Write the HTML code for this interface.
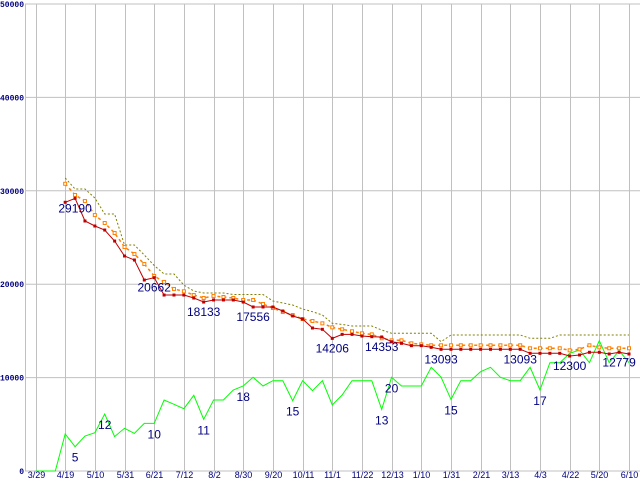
<!DOCTYPE html>
<html><head><meta charset="utf-8"><style>
body{margin:0;background:#fff}
svg{display:block;font-family:"Liberation Sans",sans-serif}
</style></head><body>
<svg id="chart" width="640" height="480" viewBox="0 0 640 480" xmlns="http://www.w3.org/2000/svg">
<g id="grid"></g>
<g id="series"></g>
<g id="labels"></g>
</svg>
<script>
const xTickLabels=["3/29","4/19","5/10","5/31","6/21","7/12","8/2","8/30","9/20","10/11","11/1","11/22","12/13","1/10","1/31","2/21","3/13","4/3","4/22","5/20","6/10"];
const yTickValues=[0,10000,20000,30000,40000,50000];
const redStart=3;
const redValues=[28770,29190,26770,26230,25800,24620,23020,22590,20450,20700,18840,18840,18840,18520,18090,18310,18310,18310,18090,17560,17560,17560,17130,16600,16270,15310,15170,14200,14630,14630,14450,14380,14350,13840,13670,13420,13420,13240,13030,13030,13030,13030,13030,13030,13030,13030,13030,12600,12600,12600,12600,12310,12420,12710,12710,12530,12710,12530];
const orangeValues=[30750,29550,28900,27400,26550,25480,23980,23230,22160,20880,20240,19490,19240,18840,18520,18740,18630,18520,18310,18310,17880,17450,17020,16700,16270,16060,15810,15380,15170,14960,14740,14630,14210,13990,13990,13670,13560,13460,13460,13460,13460,13460,13460,13460,13460,13460,13460,13140,13140,13140,13140,12920,13030,13460,13240,13140,13140,13140];
const oliveValues=[31370,30190,30190,29230,27520,27520,24200,24200,23130,22000,21090,21090,19900,19270,19060,19060,19060,18900,18900,18900,18900,18200,17990,17770,17340,17060,16700,15810,15700,15520,15520,15520,15100,14740,14740,14740,14740,14740,13840,14560,14560,14560,14560,14560,14560,14560,14560,14210,14210,14210,14560,14560,14560,14560,14560,14560,14560,14560];
const greenValues=[0,0,0,3960,2600,3750,4100,6100,3680,4570,4030,5100,5100,7600,7140,6670,8100,5530,7600,7600,8670,9100,10030,9100,9670,9670,7530,9670,8600,9670,7070,8140,9670,9670,9670,6600,10030,9100,9100,9100,11100,10030,7670,9670,9670,10630,11100,10030,9670,9670,11100,8670,11600,11600,12600,12950,11600,13950,11600,12880,11600];
const priceLabelIdx=[4,12,17,22,30,35,41,49,54,59];
const priceLabelText=["29190","20662","18133","17556","14206","14353","13093","13093","12300","12779"];
const rankLabelIdx=[4,7,12,17,21,26,35,36,42,51];
const rankLabelText=["5","12","10","11","18","15","13","20","15","17"];

const NS="http://www.w3.org/2000/svg";
const X0=35.5, XSTEP=593.5/60, Y0=471, YSCALE=467/50000;
const xs=i=>X0+i*XSTEP;
const ys=v=>Y0-v*YSCALE;
function mk(tag,attrs,parent){const e=document.createElementNS(NS,tag);for(const k in attrs)e.setAttribute(k,attrs[k]);parent.appendChild(e);return e;}
const grid=document.getElementById('grid'),ser=document.getElementById('series'),lab=document.getElementById('labels');

yTickValues.forEach(v=>{
  const l=mk('line',{x1:25,x2:640,y1:ys(v),y2:ys(v),stroke:'#c0c0c0','stroke-width':1},grid);
  
  
  const t=mk('text',{x:24,y:ys(v)+3,'text-anchor':'end','font-size':8,'font-weight':'bold',fill:'#000080','font-family':'"Liberation Mono",monospace'},lab);
  t.textContent=v;
  
  
});
const ax=mk('line',{x1:25.5,x2:25.5,y1:4,y2:471,stroke:'#c0c0c0'},grid);


xTickLabels.forEach((s,k)=>{
  const x=Math.round(xs(k*3))+0.5;
  const l=mk('line',{x1:x,x2:x,y1:4,y2:471,stroke:'#c0c0c0'},grid);
  
  
  const t=mk('text',{x:x,y:478,'text-anchor':'middle','font-size':9,fill:'#000080'},lab);
  t.textContent=s;
  
  
});

function pts(vals,start){return vals.map((v,i)=>xs(i+start).toFixed(1)+','+ys(v).toFixed(1)).join(' ');}
const g=mk('polyline',{points:pts(greenValues,0),fill:'none',stroke:'#00ff00','stroke-width':1},ser);


const ol=mk('polyline',{points:pts(oliveValues,redStart),fill:'none',stroke:'#808000','stroke-width':1,'stroke-dasharray':'2,2'},ser);


const or=mk('polyline',{points:pts(orangeValues,redStart),fill:'none',stroke:'#ff8000','stroke-width':1.5,'stroke-dasharray':'3,3'},ser);


orangeValues.forEach((v,i)=>{
  const r=mk('rect',{x:xs(i+redStart)-1.5,y:ys(v)-1.5,width:3,height:3,fill:'#fff',stroke:'#ff8000','stroke-width':1},ser);
  
  
});
const rd=mk('polyline',{points:pts(redValues,redStart),fill:'none',stroke:'#c00000','stroke-width':1},ser);


redValues.forEach((v,i)=>{
  const r=mk('rect',{x:xs(i+redStart)-1.5,y:ys(v)-1.5,width:3,height:3,fill:'#c00000'},ser);
  
  
});
priceLabelIdx.forEach((idx,k)=>{
  const t=mk('text',{x:xs(idx),y:ys(redValues[idx-redStart])+14,'text-anchor':'middle','font-size':12,fill:'#000080'},lab);
  t.textContent=priceLabelText[k];
  
  
});
rankLabelIdx.forEach((idx,k)=>{
  const t=mk('text',{x:xs(idx),y:ys(greenValues[idx])+15,'text-anchor':'middle','font-size':12,fill:'#000080'},lab);
  t.textContent=rankLabelText[k];
  
  
});
</script>
</body></html>
